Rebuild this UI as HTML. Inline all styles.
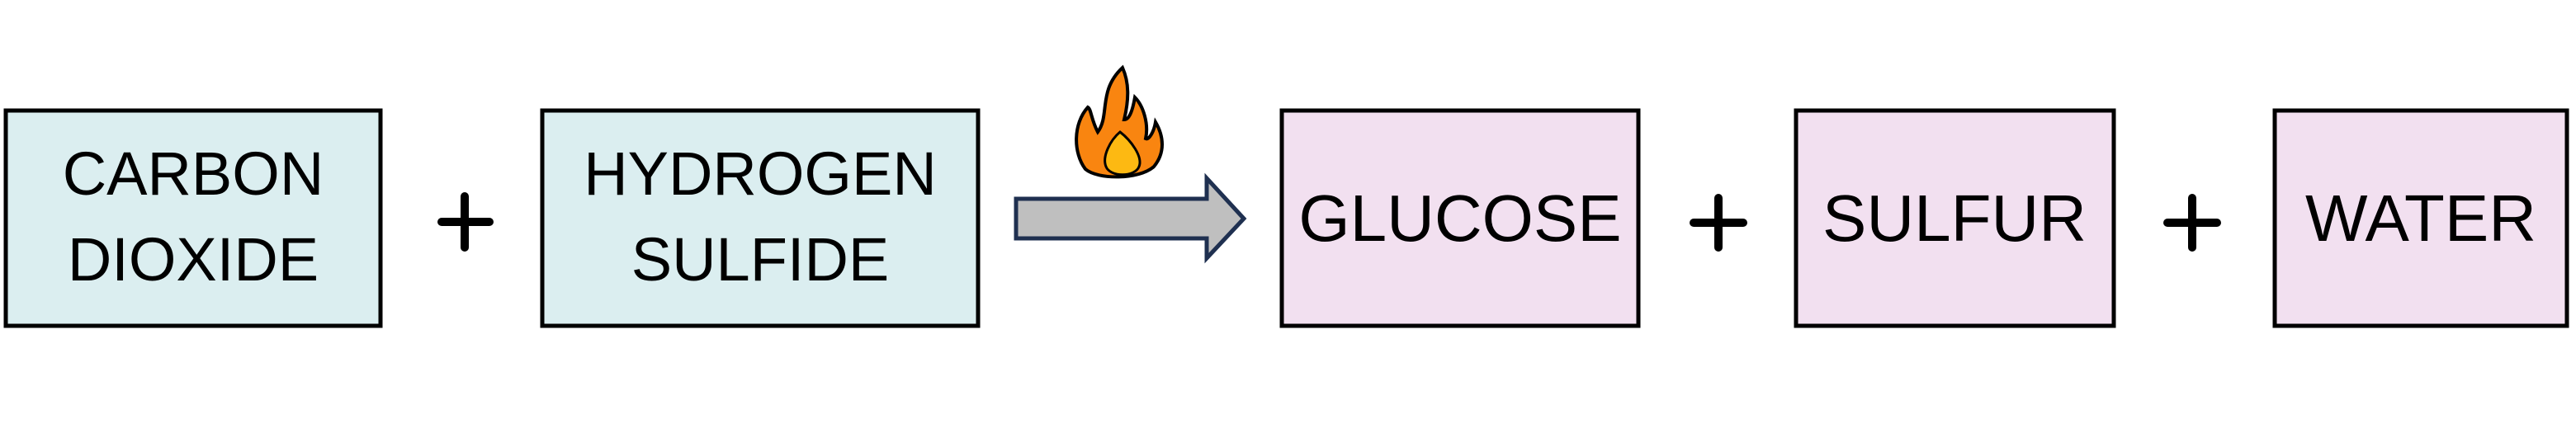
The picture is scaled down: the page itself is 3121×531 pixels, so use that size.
<!DOCTYPE html>
<html><head><meta charset="utf-8"><style>
html,body{margin:0;padding:0;background:#fff;}
svg{display:block}
text{font-family:"Liberation Sans Narrow","Liberation Sans",sans-serif;fill:#000;}
</style></head><body>
<svg width="3121" height="531" viewBox="0 0 3121 531" xmlns="http://www.w3.org/2000/svg">
<g stroke="#000" stroke-width="5">
<rect x="7" y="134" width="454" height="261" fill="#dbeef0"/>
<rect x="657" y="134" width="528" height="261" fill="#dbeef0"/>
<rect x="1553" y="134" width="432" height="261" fill="#f2e0f0"/>
<rect x="2176" y="134" width="385" height="261" fill="#f2e0f0"/>
<rect x="2756" y="134" width="354" height="261" fill="#f2e0f0"/>
</g>
<g stroke="#000" stroke-width="10" stroke-linecap="round">
<line x1="535" y1="269" x2="593" y2="269"/><line x1="563" y1="238" x2="563" y2="300"/>
<line x1="2052" y1="270" x2="2112" y2="270"/><line x1="2082" y1="240" x2="2082" y2="300"/>
<line x1="2626" y1="270" x2="2686" y2="270"/><line x1="2656" y1="240" x2="2656" y2="300"/>
</g>
<polygon points="1231,241 1462,241 1462,216 1507,265 1462,313 1462,289 1231,289" fill="#bfbfbf" stroke="#1f3050" stroke-width="5"/>
<path d="M1360,82 C1330,110 1345,140 1330,160 C1322,145 1322,132 1318,130 C1300,150 1300,185 1315,205 C1330,218 1380,218 1398,202 C1412,185 1410,165 1400,148 C1398,160 1392,170 1388,168 C1392,150 1385,128 1375,118 C1372,135 1368,145 1362,145 C1368,120 1368,100 1360,82 Z" fill="#f98510" stroke="#000" stroke-width="4"/>
<path d="M1357,160 C1345,170 1335,190 1340,202 C1345,215 1375,215 1380,202 C1385,190 1370,170 1357,160 Z" fill="#fdb912" stroke="#000" stroke-width="3"/>
<g font-size="74" text-anchor="middle">
<text x="234" y="236">CARBON</text>
<text x="234" y="340">DIOXIDE</text>
<text x="921" y="236">HYDROGEN</text>
<text x="921" y="340">SULFIDE</text>
<text x="1769" y="292" font-size="80">GLUCOSE</text>
<text x="2368" y="292" font-size="80">SULFUR</text>
<text x="2933" y="292" font-size="80">WATER</text>
</g>
</svg>
</body></html>
